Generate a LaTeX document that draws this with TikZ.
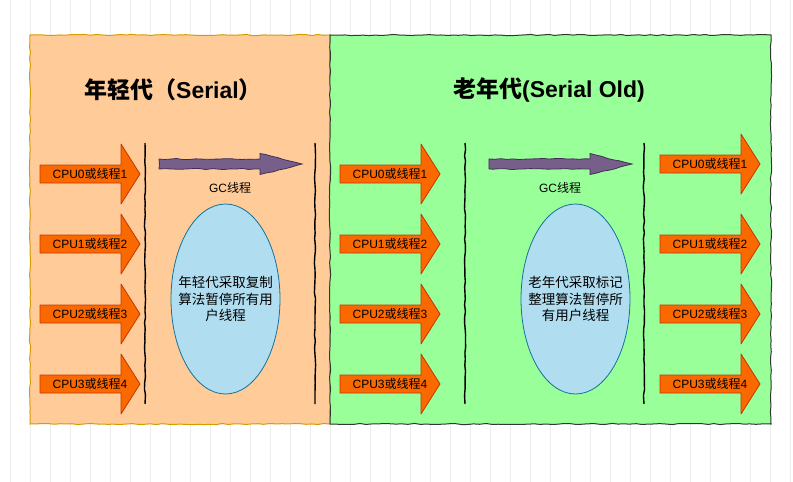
\documentclass[tikz,border=0pt]{standalone}
\usepackage{fontspec}
\setmainfont{Liberation Sans}
\newfontfamily\cjk{Noto Sans CJK SC}
\usetikzlibrary{shapes.geometric,decorations.pathmorphing}

\definecolor{youngfill}{HTML}{FFCC99}
\definecolor{youngline}{HTML}{D79B00}
\definecolor{oldfill}{HTML}{99FF99}
\definecolor{oldline}{HTML}{2F3A2F}
\definecolor{cpufill}{HTML}{FA6800}
\definecolor{cpuline}{HTML}{C73500}
\definecolor{gcfill}{HTML}{76608A}
\definecolor{gcline}{HTML}{432D57}
\definecolor{ellfill}{HTML}{B1DDF0}
\definecolor{ellline}{HTML}{10739E}

\tikzset{
	sketch/.style={decorate, decoration={random steps, segment length=6pt, amplitude=0.6pt}},
	gridline/.style={draw=black!7, line width=0.6pt},
	youngbox/.style={sketch, fill=youngfill, draw=youngline, line width=1pt},
	oldbox/.style={sketch, fill=oldfill, draw=oldline, line width=1pt},
	divider/.style={sketch, draw=black, line width=1.4pt},
	cpuarrow/.style={fill=cpufill, draw=cpuline, line width=0.8pt, line join=round},
	cpulabel/.style={inner sep=0pt, font=\fontsize{12}{14}\selectfont},
	gcarrow/.style={sketch, fill=gcfill, draw=gcline, line width=0.8pt},
	gclabel/.style={inner sep=0pt, font=\fontsize{12}{14}\selectfont},
	gcell/.style={ellipse, fill=ellfill, draw=ellline, line width=0.8pt, inner sep=0pt,
		minimum width=109pt, minimum height=190pt},
	gctext/.style={inner sep=0pt, align=center,
		font=\cjk\fontsize{13.5}{16.5}\selectfont},
	title/.style={inner sep=0pt, font=\bfseries\fontsize{23}{26}\selectfont}
}

% block arrow with its label: x of tail, y of axis, name, text
\newcommand{\cpuarrow}[4]{%
	\filldraw[cpuarrow] (#1,#2-9) -- ++(81,0) -- ++(0,-21) -- ++(19,30)
		-- ++(-19,30) -- ++(0,-21) -- ++(-81,0) -- cycle;
	\node[cpulabel] (#3) at (#1+50,#2) {#4};}
% GC arrow: x of tail, y of axis
\newcommand{\gcarrow}[2]{%
	\filldraw[gcarrow] (#1,#2-5) -- ++(101,0) -- ++(0,-5.5) -- ++(42,10.5)
		-- ++(-42,10.5) -- ++(0,-5.5) -- ++(-101,0) -- cycle;}

\begin{document}
\begin{tikzpicture}[x=1pt,y=-1pt]
	\useasboundingbox (0,0) rectangle (793,482);
	\fill[white] (0,0) rectangle (793,482);
	\draw[gridline, shift={(10,9)}] (-10,-9) grid[step=20] (783,473);

	% the two generations
	\filldraw[youngbox] (30,35) rectangle (330,424);
	\filldraw[oldbox] (330,35) rectangle (771,424);

	\node[title] (youngtitle) at (173,90) {{\cjk\bfseries 年轻代（}Serial{\cjk\bfseries ）}};
	\node[title] (oldtitle) at (549,90) {{\cjk\bfseries 老年代}(Serial Old)};

	% stop-the-world borders
	\foreach \x in {145,315,465,644}
		\draw[divider] (\x,143) -- (\x,404);

	% user threads
	\foreach \i/\j/\ya/\yc in {0/1/174/164,1/2/244/244,2/3/314/314,3/4/384/384} {
		\cpuarrow{40}{\ya}{ya\i}{CPU\i{\cjk 或线程}\j}
		\cpuarrow{340}{\ya}{ob\i}{CPU\i{\cjk 或线程}\j}
		\cpuarrow{660}{\yc}{oc\i}{CPU\i{\cjk 或线程}\j}
	}

	% GC threads
	\gcarrow{159}{164}
	\gcarrow{489}{164}
	\node[gclabel] (gcyoung) at (230,188) {GC{\cjk 线程}};
	\node[gclabel] (gcold) at (560,188) {GC{\cjk 线程}};

	\node[gcell] (youngell) at (225.5,299) {};
	\node[gctext] (youngtext) at (youngell) {年轻代采取复制\\算法暂停所有用\\户线程};
	\node[gcell] (oldell) at (575.5,299) {};
	\node[gctext] (oldtext) at (oldell) {老年代采取标记\\整理算法暂停所\\有用户线程};
\end{tikzpicture}
\end{document}
